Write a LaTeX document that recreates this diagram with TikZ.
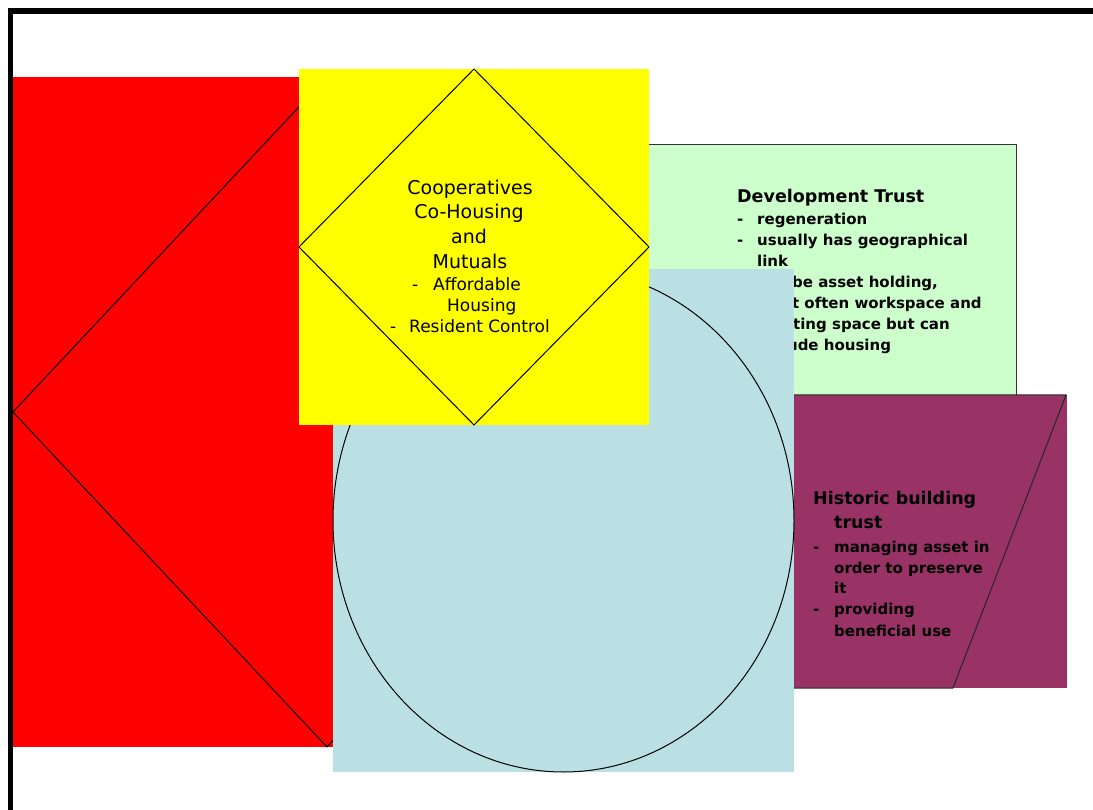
\documentclass[tikz,border=0pt]{standalone}
\usepackage{fontspec}
\setmainfont{DejaVu Sans}
\definecolor{redfill}{HTML}{FF0000}
\definecolor{greenfill}{HTML}{CCFFCC}
\definecolor{purplefill}{HTML}{993366}
\definecolor{bluefill}{HTML}{BBE0E3}
\definecolor{yellowfill}{HTML}{FFFF00}
\definecolor{edgegray}{HTML}{333333}
\begin{document}
\begin{tikzpicture}[x=1pt,y=-1pt,
  outline/.style={draw=black, line width=1pt, line join=miter},
  ytext/.style={font=\fontsize{19}{24}\selectfont, anchor=base, inner sep=0pt},
  ybul/.style={font=\fontsize{17}{21}\selectfont, anchor=base west, inner sep=0pt},
  btitle/.style={font=\bfseries\fontsize{17.5}{22}\selectfont, anchor=base west, inner sep=0pt},
  bbody/.style={font=\bfseries\fontsize{15}{21}\selectfont, anchor=base west, inner sep=0pt},
  frame/.style={draw=black, line width=5.5pt}
]
\useasboundingbox (0,0) rectangle (1093,810);
\fill[white] (0,0) rectangle (1093,810);

% red box with diamond
\fill[redfill] (13,77) rectangle (641,747);
\draw[outline] (327,77) -- (641,412) -- (327,747) -- (13,412) -- cycle;

% green box: Development Trust
\filldraw[fill=greenfill, draw=edgegray, line width=1pt] (600,145) rectangle (1016,420);
\node[btitle] (gt) at (737,203) {Development Trust};
\node[bbody] (gd1) at (737,225) {-};
\node[bbody] (g1) at (757,225) {regeneration};
\node[bbody] (gd2) at (737,246) {-};
\node[bbody] (g2) at (757,246) {usually has geographical};
\node[bbody] (g3) at (757,267) {link};
\node[bbody] (gd4) at (737,288) {-};
\node[bbody] (g4) at (757,288) {can be asset holding,};
\node[bbody] (g5) at (757,309) {most often workspace and};
\node[bbody] (g6) at (757,330) {meeting space but can};
\node[bbody] (g7) at (757,351) {include housing};

% purple box: Historic building trust
\fill[purplefill] (650,395) rectangle (1067,688);
\draw[draw=black!85, line width=1pt] (650,688) -- (953,688) -- (1066,395) -- (763,395) -- cycle;
\node[btitle] (pt) at (813,504) {Historic building};
\node[btitle] (pt2) at (834,528) {trust};
\node[bbody] (pd1) at (813,552) {-};
\node[bbody] (p1) at (834,552) {managing asset in};
\node[bbody] (p2) at (834,573) {order to preserve};
\node[bbody] (p3) at (834,593) {it};
\node[bbody] (pd2) at (813,614) {-};
\node[bbody] (p4) at (834,614) {providing};
\node[bbody] (p5) at (834,636) {beneficial use};

% blue box with ellipse
\fill[bluefill] (333,269) rectangle (794,772);
\draw[outline] (563.5,520.5) ellipse [x radius=230.5, y radius=251.5];

% yellow box with diamond
\fill[yellowfill] (299,69) rectangle (649,425);
\draw[outline] (474,69) -- (649,247) -- (474,425) -- (299,247) -- cycle;
\node[ytext] (y1) at (470,195) {Cooperatives};
\node[ytext] (y2) at (469,219) {Co-Housing};
\node[ytext] (y3) at (469,244) {and};
\node[ytext] (y4) at (470,269) {Mutuals};
\node[ybul] (yd1) at (412,291) {-};
\node[ybul] (y5) at (433,291) {Affordable};
\node[ybul] (y6) at (447,312) {Housing};
\node[ybul] (yd2) at (390,333) {-};
\node[ybul] (y7) at (409,333) {Resident Control};

% frame
\draw[frame] (10.5,810) -- (10.5,11) -- (1093,11);
\end{tikzpicture}
\end{document}
